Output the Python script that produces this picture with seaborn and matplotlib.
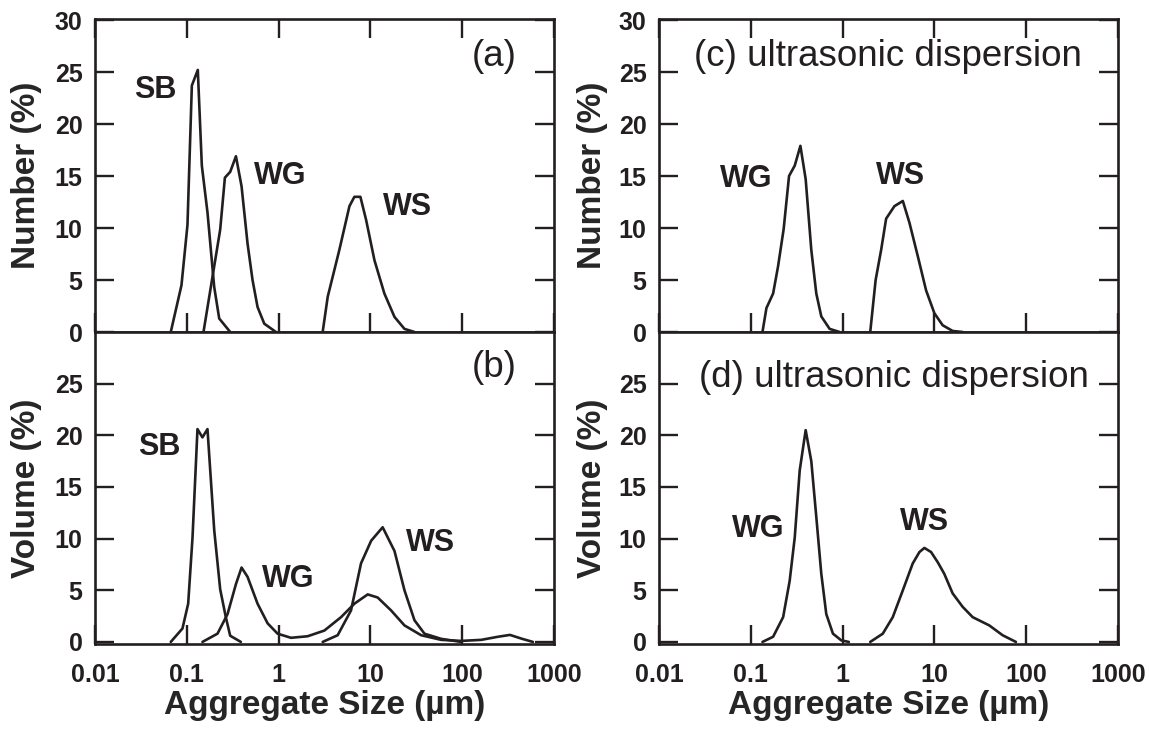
import numpy as np
import pandas as pd
import matplotlib
matplotlib.use("Agg")
import matplotlib.pyplot as plt
from matplotlib.ticker import NullLocator
import seaborn as sns

# ---------------- data ----------------
xtick_vals = [0.01, 0.1, 1, 10, 100, 1000]
xtick_labels = ["0.01", "0.1", "1", "10", "100", "1000"]

# (a) Number distribution
a_sb_x = [0.0669, 0.0875, 0.1017, 0.1135, 0.1318, 0.1458, 0.168, 0.1987, 0.2254, 0.297]
a_sb_y = [0, 4.5, 10.3, 23.7, 25.2, 16.0, 11.5, 4.35, 1.3, 0]
a_wg_x = [0.152, 0.231, 0.260, 0.297, 0.343, 0.395, 0.459, 0.520, 0.590, 0.698, 0.935]
a_wg_y = [0, 9.84, 14.84, 15.4, 16.9, 14.0, 8.5, 5.0, 2.4, 0.8, 0]
a_ws_x = [3.02, 3.43, 3.88, 4.59, 5.91, 6.69, 7.78, 8.97, 11.07, 14.2, 18.3, 23.5, 30.2]
a_ws_y = [0, 3.4, 5.3, 7.9, 12.1, 13.0, 13.0, 10.8, 6.9, 3.7, 1.45, 0.3, 0]

# (b) Volume distribution
b_sb_x = [0.0669, 0.0897, 0.1035, 0.1154, 0.1307, 0.148, 0.168, 0.199, 0.231, 0.266, 0.297, 0.388]
b_sb_y = [0, 1.3, 3.7, 10.1, 20.6, 19.8, 20.6, 10.8, 5.1, 2.4, 0.6, 0]
b_wg_x = [0.148, 0.216, 0.278, 0.343, 0.395, 0.459, 0.59, 0.759, 0.975, 1.364, 2.07, 3.15,
          4.79, 6.69, 9.35, 12.0, 16.8, 23.5, 35.7, 59.0, 97.5, 161, 245, 331, 450, 590]
b_wg_y = [0, 0.8, 2.7, 5.6, 7.2, 6.3, 3.7, 1.8, 0.8, 0.4, 0.55, 1.1,
          2.4, 3.7, 4.6, 4.3, 3.05, 1.6, 0.65, 0.2, 0.1, 0.2, 0.5, 0.68, 0.3, 0]
b_ws_x = [3.02, 4.4, 6.15, 7.9, 10.2, 13.6, 18.3, 23.5, 30.2, 38.8, 59, 97.5]
b_ws_y = [0, 0.65, 3.05, 7.6, 9.8, 11.1, 8.8, 5.0, 2.1, 0.8, 0.3, 0]

# (c) Number distribution, ultrasonic dispersion
c_wg_x = [0.134, 0.148, 0.175, 0.198, 0.228, 0.261, 0.301, 0.347, 0.396, 0.456, 0.517, 0.586, 0.722, 0.927]
c_wg_y = [0, 2.3, 3.7, 6.3, 9.9, 15.0, 16.0, 17.9, 14.7, 7.9, 3.7, 1.5, 0.3, 0]
c_ws_x = [2.0, 2.29, 2.63, 2.98, 3.67, 4.53, 5.35, 6.59, 8.12, 10.0, 12.3, 15.8, 20.3]
c_ws_y = [0, 5.0, 7.9, 10.9, 12.1, 12.6, 10.5, 7.3, 4.0, 1.8, 0.65, 0.1, 0]

# (d) Volume distribution, ultrasonic dispersion
d_wg_x = [0.134, 0.175, 0.225, 0.265, 0.301, 0.341, 0.396, 0.456, 0.517, 0.586, 0.664, 0.785, 0.968, 1.17]
d_wg_y = [0, 0.5, 2.4, 5.9, 10.1, 16.6, 20.5, 17.5, 12.1, 6.6, 2.7, 0.8, 0.15, 0]
d_ws_x = [2.0, 2.74, 3.52, 4.53, 5.81, 6.87, 7.78, 9.2, 10.9, 12.8, 15.8, 20.3, 26.1, 39.6, 55.3, 77.3]
d_ws_y = [0, 0.8, 2.4, 5.0, 7.6, 8.7, 9.1, 8.7, 7.7, 6.6, 4.7, 3.4, 2.4, 1.6, 0.65, 0]

# ---------------- style ----------------
sns.set_style("ticks")
plt.rcParams["font.family"] = ["Liberation Sans", "DejaVu Sans"]
plt.rcParams["font.weight"] = "bold"
plt.rcParams["axes.labelweight"] = "bold"
plt.rcParams["axes.edgecolor"] = "#231f20"
plt.rcParams["xtick.color"] = "#231f20"
plt.rcParams["ytick.color"] = "#231f20"
plt.rcParams["text.color"] = "#231f20"

INK = "#231f20"

fig = plt.figure(figsize=(11.49, 7.30), dpi=100)
W, H = 1149.0, 730.0

def add_ax(x0, x1, y0, y1):
    return fig.add_axes([x0 / W, 1 - y1 / H, (x1 - x0) / W, (y1 - y0) / H])

ax_a = add_ax(95, 554, 19, 332)
ax_b = add_ax(95, 554, 332, 644)
ax_c = add_ax(659, 1118, 19, 332)
ax_d = add_ax(659, 1118, 332, 644)

def curve(ax, xs, ys):
    df = pd.DataFrame({"size": xs, "pct": ys})
    sns.lineplot(data=df, x="size", y="pct", ax=ax, color=INK, linewidth=1.9,
                 sort=False, estimator=None)

def style(ax, top_panel, ylabel, label_x):
    ax.set_xscale("log")
    ax.set_xlim(0.01, 1000)
    ax.set_xticks(xtick_vals)
    ax.xaxis.set_minor_locator(NullLocator())
    if top_panel:
        ax.set_xticklabels([])
        ax.set_ylim(0, 30.1)
        ax.set_yticks([0, 5, 10, 15, 20, 25, 30])
        ax.set_xlabel("")
    else:
        ax.set_xticklabels(xtick_labels)
        ax.set_ylim(-0.2, 30)
        ax.set_yticks([0, 5, 10, 15, 20, 25])
        ax.set_xlabel("Aggregate Size (\u00b5m)", fontsize=24, fontweight="bold", labelpad=2)
    ax.set_yticklabels([str(v) for v in ax.get_yticks().astype(int)])
    ax.tick_params(axis="both", which="major", direction="in", length=13.7, width=1.7,
                   labelsize=18)
    ax.tick_params(axis="y", left=True, right=True, pad=9)
    ax.tick_params(axis="x", bottom=True, top=top_panel, pad=14)
    for lbl in ax.get_xticklabels() + ax.get_yticklabels():
        lbl.set_fontweight("bold")
    for sp in ax.spines.values():
        sp.set_visible(True)
        sp.set_linewidth(1.9)
        sp.set_color(INK)
    ax.set_ylabel(ylabel, fontsize=24, fontweight="bold")
    ax.yaxis.set_label_coords(label_x, 0.5)

# panel (a)
curve(ax_a, a_sb_x, a_sb_y)
curve(ax_a, a_wg_x, a_wg_y)
curve(ax_a, a_ws_x, a_ws_y)
style(ax_a, True, "Number (%)", -0.115)
ax_a.text(0.045, 23.3, "SB", fontsize=22, fontweight="bold", ha="center", va="center")
ax_a.text(1.035, 15.05, "WG", fontsize=22, fontweight="bold", ha="center", va="center")
ax_a.text(25.1, 12.0, "WS", fontsize=22, fontweight="bold", ha="center", va="center")
ax_a.text(222, 26.5, "(a)", fontsize=26.5, fontweight="normal", ha="center", va="center")

# panel (b)
curve(ax_b, b_sb_x, b_sb_y)
curve(ax_b, b_wg_x, b_wg_y)
curve(ax_b, b_ws_x, b_ws_y)
style(ax_b, False, "Volume (%)", -0.115)
ax_b.text(0.0498, 18.9, "SB", fontsize=22, fontweight="bold", ha="center", va="center")
ax_b.text(1.265, 6.1, "WG", fontsize=22, fontweight="bold", ha="center", va="center")
ax_b.text(45.7, 9.6, "WS", fontsize=22, fontweight="bold", ha="center", va="center")
ax_b.text(222, 26.6, "(b)", fontsize=26.5, fontweight="normal", ha="center", va="center")

# panel (c)
curve(ax_c, c_wg_x, c_wg_y)
curve(ax_c, c_ws_x, c_ws_y)
style(ax_c, True, "Number (%)", -0.111)
ax_c.text(0.0887, 14.7, "WG", fontsize=22, fontweight="bold", ha="center", va="center")
ax_c.text(4.33, 15.05, "WS", fontsize=22, fontweight="bold", ha="center", va="center")
ax_c.text(3.08, 26.5, "(c) ultrasonic dispersion", fontsize=26.5, fontweight="normal",
          ha="center", va="center")

# panel (d)
curve(ax_d, d_wg_x, d_wg_y)
curve(ax_d, d_ws_x, d_ws_y)
style(ax_d, False, "Volume (%)", -0.111)
ax_d.text(0.1197, 10.9, "WG", fontsize=22, fontweight="bold", ha="center", va="center")
ax_d.text(7.9, 11.6, "WS", fontsize=22, fontweight="bold", ha="center", va="center")
ax_d.text(3.58, 25.6, "(d) ultrasonic dispersion", fontsize=26.5, fontweight="normal",
          ha="center", va="center")

fig.savefig("out.png", dpi=100)
